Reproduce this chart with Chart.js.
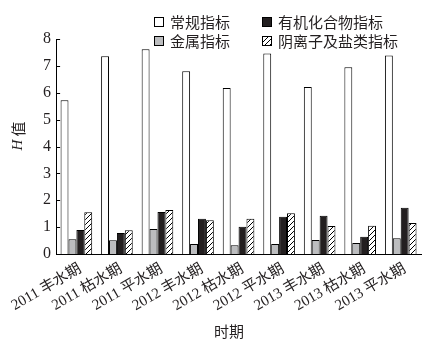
<!DOCTYPE html>
<html>
<head>
<meta charset="utf-8">
<script src="https://cdn.jsdelivr.net/npm/chart.js@4/dist/chart.umd.min.js"></script>
<style>
    html, body { margin: 0; padding: 0; background: #fff; }
    #wrap { width: 432px; height: 342px; }
</style>
</head>
<body>
<div id="wrap"><canvas id="chart" width="432" height="342"></canvas></div>
<script>
const periods = ['2011 丰水期', '2011 枯水期', '2011 平水期', '2012 丰水期', '2012 枯水期',
                 '2012 平水期', '2013 丰水期', '2013 枯水期', '2013 平水期'];
const seriesNames = ['常规指标', '金属指标', '有机化合物指标', '阴离子及盐类指标'];
const conventional = [5.72, 7.36, 7.62, 6.80, 6.18, 7.46, 6.21, 6.95, 7.39];
const metal = [0.55, 0.51, 0.93, 0.37, 0.33, 0.37, 0.52, 0.41, 0.59];
const organic = [0.89, 0.78, 1.56, 1.31, 1.01, 1.39, 1.42, 0.64, 1.72];
const anion = [1.55, 0.88, 1.64, 1.26, 1.31, 1.52, 1.04, 1.05, 1.15];
const yTicks = [0, 1, 2, 3, 4, 5, 6, 7, 8];

const serif = '"Liberation Serif", "Noto Sans CJK SC", serif';
const cjk = '"Noto Sans CJK SC", sans-serif';

// diagonal hatch for the anion series
function makeHatch() {
    const c = document.createElement('canvas');
    c.width = 5; c.height = 5;
    const g = c.getContext('2d');
    g.fillStyle = '#fff';
    g.fillRect(0, 0, 5, 5);
    g.strokeStyle = '#000';
    g.lineWidth = 1;
    g.beginPath();
    g.moveTo(-1, 6); g.lineTo(6, -1);
    g.stroke();
    return g.createPattern(c, 'repeat');
}
const hatch = makeHatch();

const fills = ['#ffffff', '#bcbdbf', '#231f20', hatch];
const values = [conventional, metal, organic, anion];

// legend laid out in two columns, drawn by hand
const legendPos = [
    { x: 154, y: 17 }, // 常规指标
    { x: 154, y: 36 }, // 金属指标
    { x: 262, y: 17 }, // 有机化合物指标
    { x: 262, y: 36 }  // 阴离子及盐类指标
];

const decor = {
    id: 'decor',
    afterDraw(chart) {
        const ctx = chart.ctx;
        const area = chart.chartArea;
        const y = chart.scales.y;
        ctx.save();

        // inward ticks on the y axis
        ctx.strokeStyle = '#000';
        ctx.lineWidth = 1;
        yTicks.forEach(v => {
            const py = Math.round(y.getPixelForValue(v)) + 0.5;
            ctx.beginPath();
            ctx.moveTo(area.left, py);
            ctx.lineTo(area.left + 4, py);
            ctx.stroke();
        });

        // legend
        chart.data.datasets.forEach((ds, i) => {
            const p = legendPos[i];
            ctx.fillStyle = ds.backgroundColor;
            ctx.fillRect(p.x, p.y, 10, 10);
            ctx.strokeStyle = '#000';
            ctx.strokeRect(p.x + 0.5, p.y + 0.5, 9, 9);
            ctx.fillStyle = '#231f20';
            ctx.font = '15px ' + cjk;
            ctx.textBaseline = 'middle';
            ctx.textAlign = 'left';
            ctx.fillText(ds.label, p.x + 16, p.y + 5);
        });

        // y title, italic H
        ctx.translate(18, 136);
        ctx.rotate(-Math.PI / 2);
        ctx.textBaseline = 'middle';
        ctx.textAlign = 'left';
        ctx.font = 'italic 15px "Liberation Serif", serif';
        const hw = ctx.measureText('H').width;
        ctx.font = '15px ' + cjk;
        const cw = ctx.measureText('值').width;
        const start = -(hw + 3 + cw) / 2;
        ctx.font = 'italic 15px "Liberation Serif", serif';
        ctx.fillText('H', start, 0);
        ctx.font = '15px ' + cjk;
        ctx.fillText('值', start + hw + 3, 0);
        ctx.restore();

        // x title
        ctx.save();
        ctx.fillStyle = '#231f20';
        ctx.font = '15px ' + cjk;
        ctx.textAlign = 'center';
        ctx.textBaseline = 'middle';
        ctx.fillText('时期', 229, 331);
        ctx.restore();
    }
};

new Chart(document.getElementById('chart'), {
    type: 'bar',
    data: {
        labels: periods,
        datasets: seriesNames.map((name, i) => ({
            label: name,
            data: values[i],
            backgroundColor: fills[i],
            borderColor: '#000',
            borderWidth: 1,
            categoryPercentage: 0.78,
            barPercentage: 1.0
        }))
    },
    options: {
        responsive: false,
        animation: false,
        layout: { padding: { left: 0, top: 39, right: 11, bottom: 0 } },
        plugins: {
            legend: { display: false },
            tooltip: { enabled: false }
        },
        scales: {
            x: {
                grid: { display: false, drawTicks: false },
                border: { display: true, color: '#000', width: 1 },
                ticks: {
                    color: '#231f20',
                    font: { family: serif, size: 15 },
                    minRotation: 30,
                    maxRotation: 30,
                    padding: 6,
                    labelOffset: 4,
                    autoSkip: false
                },
                afterFit(scale) { scale.height = 88; }
            },
            y: {
                min: 0,
                max: 8,
                grid: { display: false, drawTicks: false },
                border: { display: true, color: '#000', width: 1 },
                afterBuildTicks(scale) { scale.ticks = yTicks.map(v => ({ value: v })); },
                ticks: {
                    color: '#231f20',
                    font: { family: serif, size: 16 },
                    padding: 5
                },
                afterFit(scale) { scale.width = 48; }
            }
        }
    },
    plugins: [decor]
});
</script>
</body>
</html>
